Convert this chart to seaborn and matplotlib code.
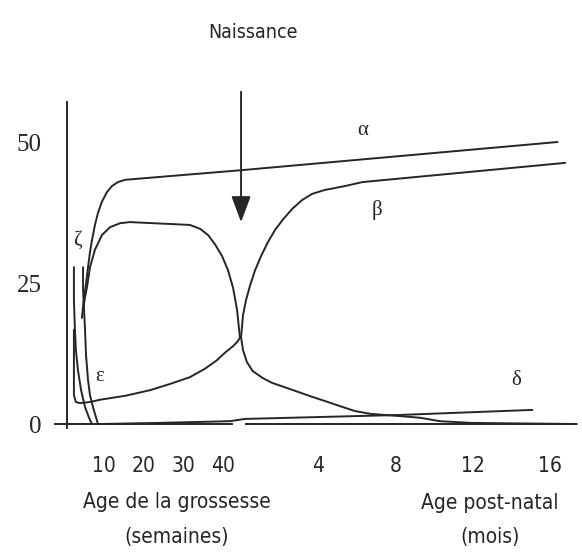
import matplotlib
matplotlib.use("Agg")
import matplotlib.pyplot as plt
import seaborn as sns

# values (% of globin chains)
# prenatal parts in weeks of pregnancy, postnatal parts in months after birth
zeta_wk = [2.5, 2.5, 2.75, 3.0, 3.5, 4.3, 5.3, 6.3, 7.05]
zeta_pct = [27.8, 22.0, 16.7, 13.1, 9.6, 6.0, 3.0, 1.1, 0.0]

eps_wk = [4.8, 4.8, 5.05, 5.3, 5.55, 6.05, 6.55, 7.3, 8.05, 8.55]
eps_pct = [27.8, 23.8, 20.2, 16.7, 12.2, 7.8, 5.1, 3.0, 1.2, 0.0]

alpha_pre_wk = [4.5, 5.0, 5.5, 6.05, 6.55, 7.05, 7.8, 8.55, 9.55, 10.8, 12.1, 13.6, 15.4]
alpha_pre_pct = [18.8, 22.0, 24.6, 27.8, 30.5, 32.6, 35.3, 37.4, 39.4, 41.1, 42.2, 42.9, 43.3]
alpha_post_mo = [0.0, 16.4]
alpha_post_pct = [45.0, 50.0]

gamma_pre_wk = [4.8, 5.3, 5.8, 6.55, 7.8, 9.55, 11.6, 14.1, 16.6, 31.7, 34.3,
                36.3, 38.0, 39.8, 41.3, 42.6, 43.6, 44.3]
gamma_pre_pct = [20.2, 22.5, 24.3, 27.8, 30.9, 33.5, 34.9, 35.6, 35.8, 35.3, 34.6,
                 33.5, 31.9, 29.8, 27.3, 24.1, 20.2, 15.4]
gamma_post_mo = [0.0, 0.1, 0.3, 0.6, 1.1, 1.6, 2.2, 2.95, 3.7, 4.5, 5.1, 5.9, 6.7,
                 7.45, 8.25, 9.3, 10.3, 11.9, 14.5, 17.4]
gamma_post_pct = [15.4, 13.1, 11.0, 9.4, 8.2, 7.3, 6.6, 5.7, 4.8, 3.9, 3.2, 2.3, 1.8,
                  1.6, 1.4, 1.1, 0.5, 0.2, 0.1, 0.0]

beta_pre_wk = [2.5, 2.5, 2.5, 3.0, 4.0, 6.55, 9.05, 15.4, 21.7, 26.7, 31.7, 35.5,
               38.5, 40.8, 42.6, 43.8, 44.4]
beta_pre_pct = [16.7, 9.6, 5.1, 3.9, 3.7, 3.9, 4.3, 5.0, 6.0, 7.1, 8.3, 9.8,
                11.3, 12.8, 13.8, 14.7, 15.4]
beta_post_mo = [0.0, 0.1, 0.26, 0.47, 0.73, 1.04, 1.4, 1.76, 2.18, 2.64, 3.16, 3.68,
                4.35, 5.4, 6.3, 16.8]
beta_post_pct = [15.4, 19.3, 22.0, 24.6, 27.3, 29.8, 32.3, 34.4, 36.3, 38.1, 39.7, 40.8,
                 41.5, 42.2, 42.9, 46.3]

delta_pre_wk = [9.05, 24.2, 41.8]
delta_pre_pct = [0.0, 0.2, 0.5]
delta_post_mo = [0.2, 8.2, 15.1]
delta_post_pct = [0.9, 1.6, 2.5]

week_ticks = [10, 20, 30, 40]
month_ticks = [4, 8, 12, 16]

# the drawing puts birth a little after 40 weeks and uses a wider step per month
BIRTH = 44.6
MONTH = 4.86


def post(months):
    return [BIRTH + m * MONTH for m in months]


INK = "#262626"
SANS = dict(family=["DejaVu Sans"], fontstretch="condensed")
SERIF = ["Liberation Serif", "DejaVu Serif"]

sns.set_style("white")

fig = plt.figure(figsize=(5.82, 5.54), dpi=100)
ax = fig.add_axes([0, 0, 1, 1])

curves = {
    "zeta": (zeta_wk, zeta_pct),
    "eps": (eps_wk, eps_pct),
    "alpha": (alpha_pre_wk + post(alpha_post_mo), alpha_pre_pct + alpha_post_pct),
    "gamma": (gamma_pre_wk + post(gamma_post_mo), gamma_pre_pct + gamma_post_pct),
    "beta": (beta_pre_wk + post(beta_post_mo), beta_pre_pct + beta_post_pct),
    "delta": (delta_pre_wk + post(delta_post_mo), delta_pre_pct + delta_post_pct),
}
for name, (xs, ys) in curves.items():
    sns.lineplot(x=xs, y=ys, ax=ax, color=INK, lw=1.4, sort=False, estimator=None)

ax.set_xlim(-16.12, 130.48)
ax.set_ylim(-23.05, 75.18)

# axes drawn like the original: y axis stops at the top, x axis broken at birth
for side in ["top", "right"]:
    ax.spines[side].set_visible(False)
ax.spines["left"].set_position(("data", 0.76))
ax.spines["left"].set_bounds(-0.7, 57.1)
ax.spines["bottom"].set_position(("data", 0))
ax.spines["bottom"].set_bounds(-2.3, 42.3)
for side in ["left", "bottom"]:
    ax.spines[side].set_color(INK)
    ax.spines[side].set_linewidth(1.4)
ax.hlines(0, 45.6, 129.2, color=INK, lw=1.4)

ax.set_yticks([0, 25, 50])
ax.set_yticklabels(["0", "25", "50"], family=SERIF, fontsize=18)
ax.set_xticks(week_ticks + post(month_ticks))
ax.set_xticklabels([str(t) for t in week_ticks + month_ticks], fontsize=15, **SANS)
ax.tick_params(axis="y", direction="out", length=7.2, width=1.3, pad=11, colors=INK)
ax.tick_params(axis="x", direction="out", length=5.8, width=1.3, pad=17, colors=INK)
ax.set_xlabel("")
ax.set_ylabel("")

lab = dict(fontsize=15, color=INK, ha="center", va="center", **SANS)
ax.text(28.5, -13.8, "Age de la grossesse", **lab)
ax.text(28.3, -20.0, "(semaines)", **lab)
ax.text(107.3, -14.0, "Age post-natal", **lab)
ax.text(107.3, -20.0, "(mois)", **lab)
ax.text(47.6, 69.5, "Naissance", fontsize=14, color=INK,
        ha="center", va="center", **SANS)

ax.annotate("", xy=(BIRTH, 35.8), xytext=(BIRTH, 58.9),
            arrowprops=dict(arrowstyle="-|>,head_length=0.8,head_width=0.3",
                            mutation_scale=20, color=INK, lw=1.4,
                            shrinkA=0, shrinkB=0))

greek = dict(family=SERIF, fontsize=15, color=INK, ha="center", va="center")
ax.text(BIRTH + 6.3 * MONTH, 52.1, "α", **greek)
ax.text(BIRTH + 7.05 * MONTH, 37.9, "β", **greek)
ax.text(BIRTH + 14.25 * MONTH, 7.8, "δ", **greek)
ax.text(9.1, 8.5, "ε", **greek)
ax.text(3.3, 32.6, "ζ", **greek)

fig.savefig("out.png", dpi=100)
